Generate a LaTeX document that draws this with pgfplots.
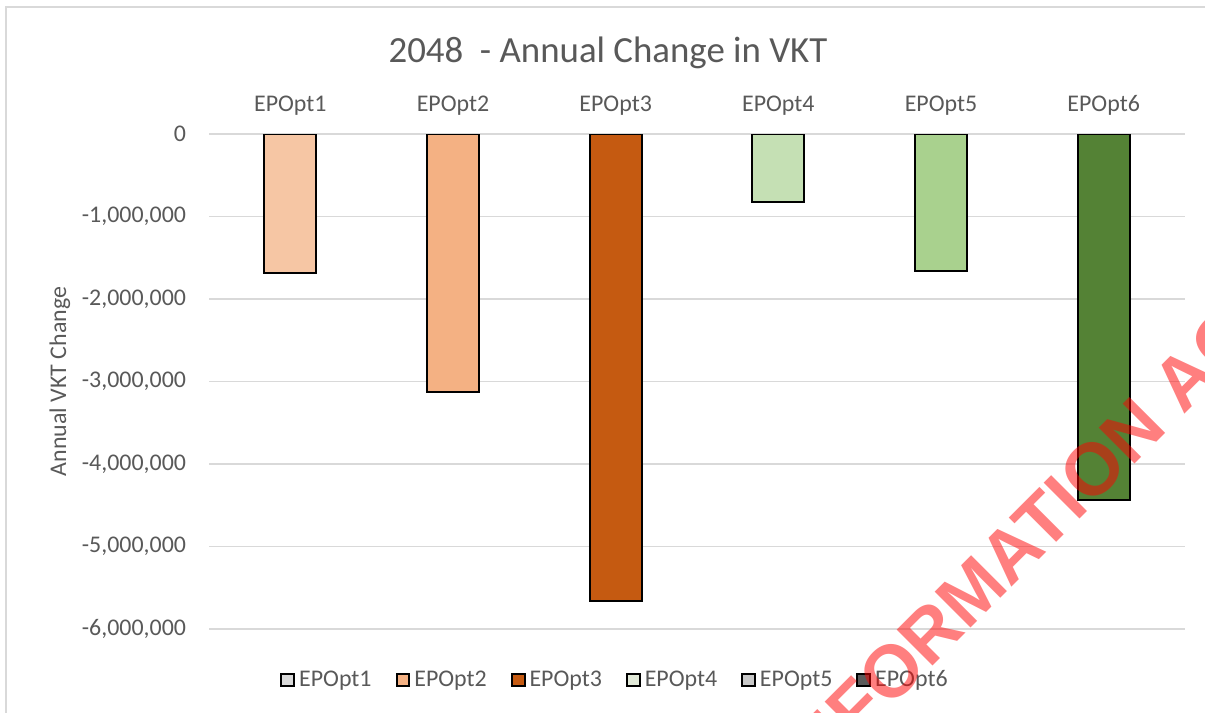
\documentclass[border=0pt]{standalone}
\usepackage{pgfplots}
\pgfplotsset{compat=1.18}
\usepackage{fontspec}
\setmainfont{Carlito}
\newfontfamily\wmfont{Liberation Sans}
\definecolor{txt}{HTML}{595959}
\definecolor{gridc}{HTML}{D9D9D9}
\definecolor{c1}{HTML}{F6C6A4}
\definecolor{c2}{HTML}{F4B183}
\definecolor{c3}{HTML}{C55A11}
\definecolor{c4}{HTML}{C5E0B4}
\definecolor{c5}{HTML}{A9D18E}
\definecolor{c6}{HTML}{548235}
\definecolor{l1}{HTML}{D9D9D9}
\definecolor{l2}{HTML}{F4B183}
\definecolor{l3}{HTML}{C55A11}
\definecolor{l4}{HTML}{E2EAD9}
\definecolor{l5}{HTML}{C8C8C8}
\definecolor{l6}{HTML}{5A5A5A}
\begin{document}
\begin{tikzpicture}
\path[use as bounding box] (0,0) rectangle (602.5bp,356.5bp);
\fill[white] (0,0) rectangle (602.5bp,356.5bp);
\draw[gridc, line width=0.8bp] (3bp,0) -- (3bp,353bp) -- (602.5bp,353bp);
\node[text=txt, font=\fontsize{18.5}{22}\selectfont] at (304bp,330bp) {2048\ \ - Annual Change in VKT};
\begin{axis}[
  at={(104.5bp,42bp)}, anchor=south west,
  scale only axis, width=488bp, height=247.5bp,
  xmin=-0.5, xmax=5.5, ymin=-6000000, ymax=0,
  scaled y ticks=false,
  axis line style={draw=none},
  ymajorgrids, major grid style={gridc, line width=0.8bp},
  xtick={0,1,2,3,4,5},
  xticklabels={EPOpt1,EPOpt2,EPOpt3,EPOpt4,EPOpt5,EPOpt6},
  xticklabel pos=right,
  xticklabel style={text=txt, font=\fontsize{12}{14}\selectfont, yshift=6bp},
  ytick={-6000000,-5000000,-4000000,-3000000,-2000000,-1000000,0},
  yticklabels={{-6,000,000},{-5,000,000},{-4,000,000},{-3,000,000},{-2,000,000},{-1,000,000},{0}},
  yticklabel style={text=txt, font=\fontsize{12}{14}\selectfont, xshift=-8bp},
  major tick length=0pt,
  ylabel={Annual VKT Change},
  ylabel style={text=txt, font=\fontsize{12}{14}\selectfont, at={(axis description cs:-0.1527,0.5)}, anchor=center, rotate=0},
  legend columns=6,
  legend style={draw=none, fill=none, at={(axis description cs:0.417,-0.103)}, anchor=center,
    font=\fontsize{12}{14}\selectfont, text=txt,
    /tikz/every even column/.append style={column sep=10bp}},
  legend image code/.code={\draw[#1, line width=1bp] (0bp,-3.2bp) rectangle (6.4bp,3.2bp);},
]
\addplot[ybar, bar width=26bp, bar shift=0pt, fill=c1, draw=black, line width=1bp, forget plot] coordinates {(0,-1690000)};
\addplot[ybar, bar width=26bp, bar shift=0pt, fill=c2, draw=black, line width=1bp, forget plot] coordinates {(1,-3125000)};
\addplot[ybar, bar width=26bp, bar shift=0pt, fill=c3, draw=black, line width=1bp, forget plot] coordinates {(2,-5660000)};
\addplot[ybar, bar width=26bp, bar shift=0pt, fill=c4, draw=black, line width=1bp, forget plot] coordinates {(3,-830000)};
\addplot[ybar, bar width=26bp, bar shift=0pt, fill=c5, draw=black, line width=1bp, forget plot] coordinates {(4,-1660000)};
\addplot[ybar, bar width=26bp, bar shift=0pt, fill=c6, draw=black, line width=1bp, forget plot] coordinates {(5,-4435000)};
\addlegendimage{fill=l1, draw=black}\addlegendentry{EPOpt1}
\addlegendimage{fill=l2, draw=black}\addlegendentry{EPOpt2}
\addlegendimage{fill=l3, draw=black}\addlegendentry{EPOpt3}
\addlegendimage{fill=l4, draw=black}\addlegendentry{EPOpt4}
\addlegendimage{fill=l5, draw=black}\addlegendentry{EPOpt5}
\addlegendimage{fill=l6, draw=black}\addlegendentry{EPOpt6}
\end{axis}
\begin{scope}
\clip (0,0) rectangle (602.5bp,356.5bp);
\node[text=red, text opacity=0.5, rotate=45, font=\wmfont\bfseries\fontsize{37}{44}\selectfont] at (515bp,90bp) {INFORMATION ACT};
\end{scope}
\end{tikzpicture}
\end{document}
